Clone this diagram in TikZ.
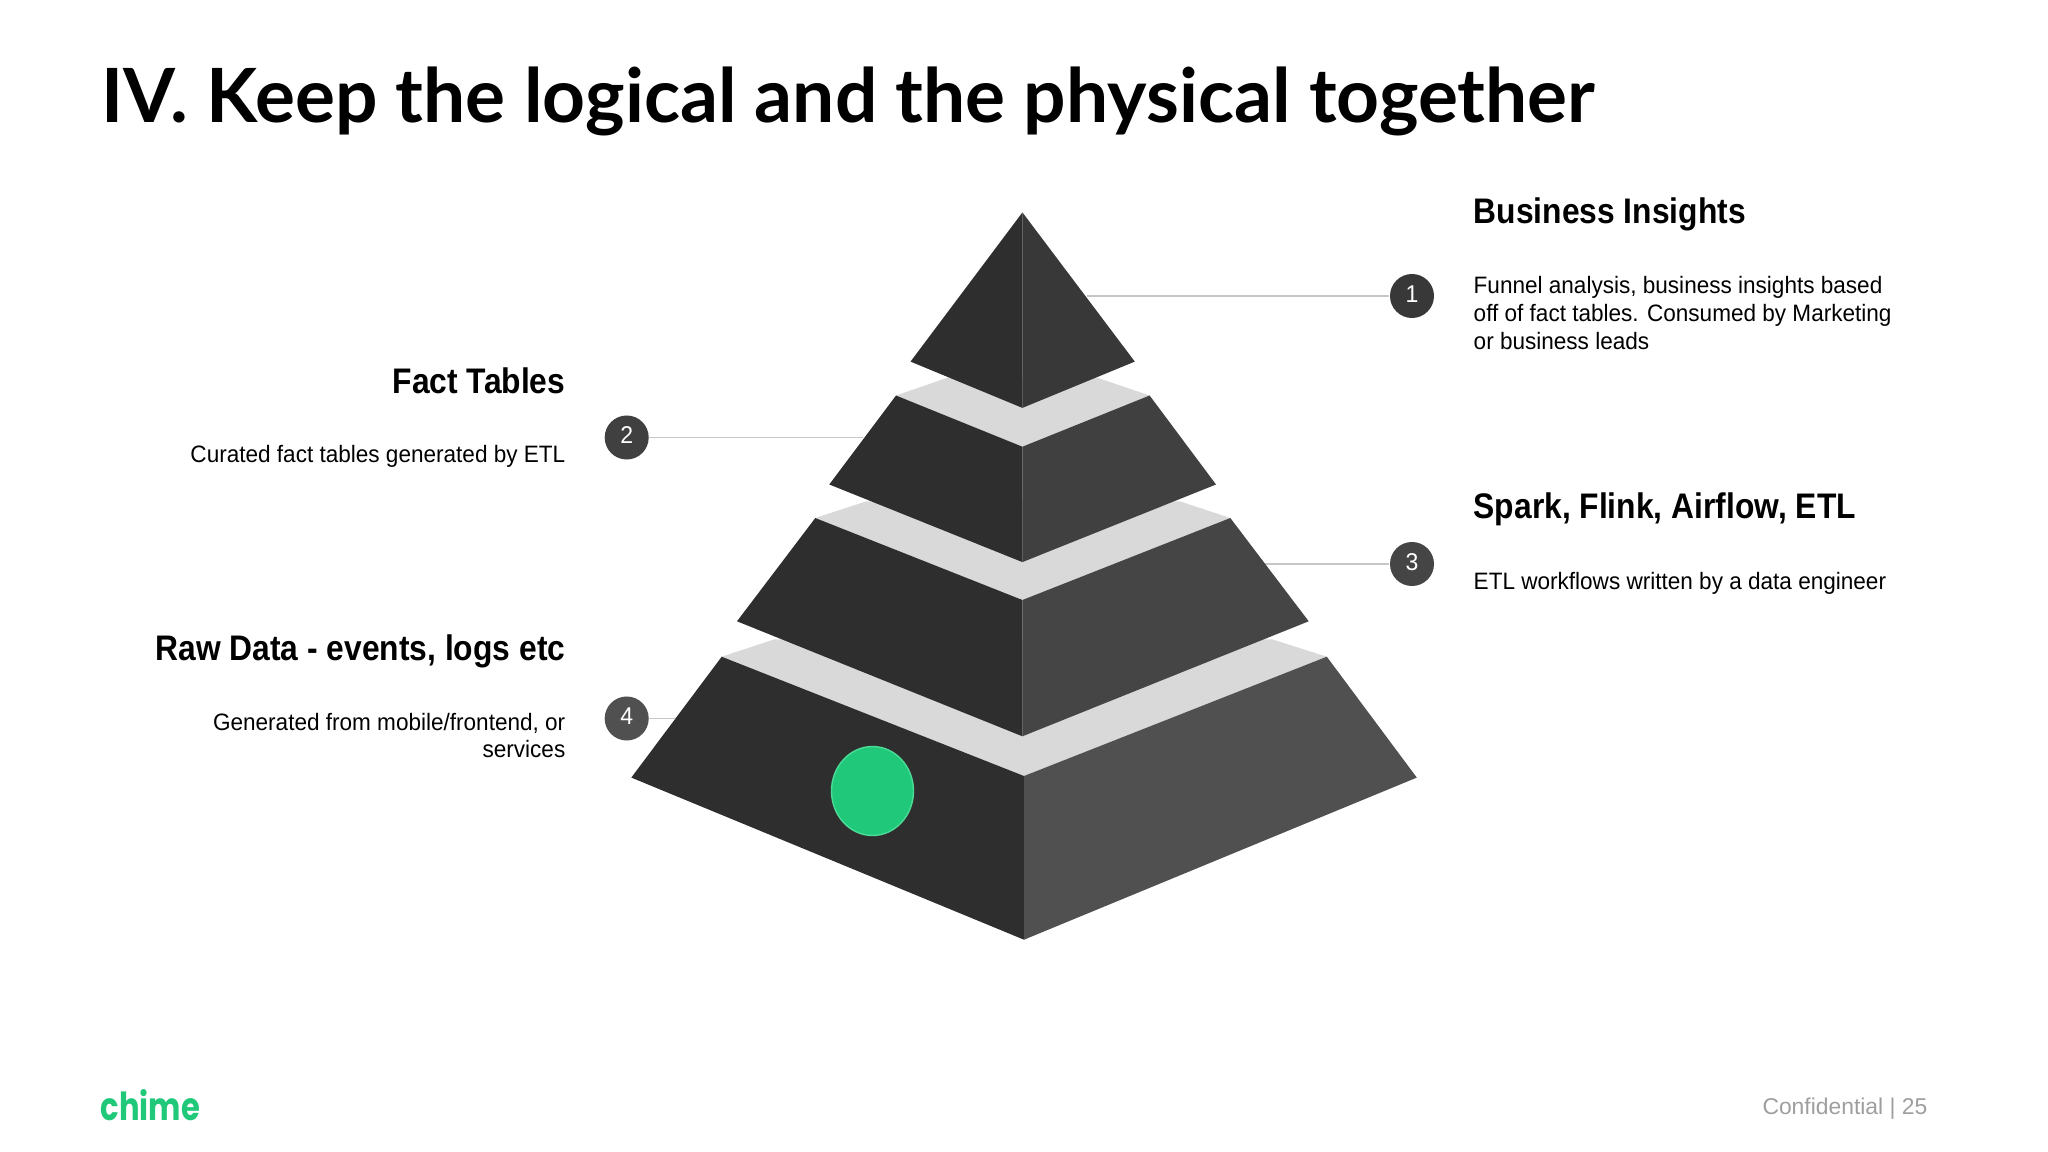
\documentclass[tikz,border=0pt]{standalone}
\usepackage{fontspec}
\setmainfont{Liberation Sans}
\newfontfamily\titlefont{Lato}
\newfontfamily\logofont{Poppins}[FakeStretch=0.79]
\newfontfamily\headfont{Liberation Sans}[FakeStretch=0.895]
\newfontfamily\copyfont{Liberation Sans}[FakeStretch=0.95]
\usepackage{xcolor}
\definecolor{faceleft}{HTML}{2E2E2E}
\definecolor{faceone}{HTML}{383838}
\definecolor{facetwo}{HTML}{404040}
\definecolor{facethree}{HTML}{454545}
\definecolor{facefour}{HTML}{505050}
\definecolor{bandgray}{HTML}{D9D9D9}
\definecolor{leadgray}{HTML}{C6C6C6}
\definecolor{chimegreen}{HTML}{20C97A}
\definecolor{chimeedge}{HTML}{4BDB97}
\definecolor{footgray}{HTML}{9E9E9E}
\tikzset{
	badge/.style={circle,minimum size=44*0.2845pt,inner sep=0pt,text=white,text depth=1.2pt,font=\fontsize{6.9}{8}\copyfont},
	lead/.style={draw=leadgray,line width=0.55pt},
	heading/.style={inner sep=0pt,font=\fontsize{10.1}{12}\headfont\bfseries},
	bodytext/.style={inner sep=0pt,font=\fontsize{6.75}{7.85}\copyfont}
}

\begin{document}
\begin{tikzpicture}[x=0.01cm,y=-0.01cm]
	\useasboundingbox (0,0) rectangle (2048,1152);

	\node[inner sep=0pt,anchor=base west,font=\fontsize{21.28}{24}\titlefont\bfseries] (title) at (101,122.5) {IV. Keep the logical and the physical together};

	\coordinate (tipone) at (1087,296);
	\coordinate (tiptwo) at (863,437.5);
	\coordinate (tipthree) at (1265,564);
	\coordinate (tipfour) at (675,718.5);

	\node[badge,fill=faceone] (one) at (1412,296) {1};
	\node[badge,fill=facetwo] (two) at (626.7,437.5) {2};
	\node[badge,fill=facethree] (three) at (1412,564) {3};
	\node[badge,fill=facefour] (four) at (626.7,718.5) {4};

	\draw[lead] (one) -- (tipone);
	\draw[lead] (two) -- (tiptwo);
	\draw[lead] (three) -- (tipthree);
	\draw[lead] (four) -- (tipfour);

	\fill[bandgray] (896,395.5) -- (946.7,378) -- (1098,378) -- (1149.6,395.5) -- (1022.4,446.7) -- cycle;
	\fill[bandgray] (815.3,518) -- (866,501.4) -- (1180,501.4) -- (1230.3,518) -- (1022.4,600) -- cycle;
	\fill[bandgray] (721.7,656.7) -- (774.4,639.3) -- (1272,639.3) -- (1326.8,656.7) -- (1024,776) -- cycle;

	\fill[faceleft] (1022.4,212.4) -- (910.5,361.6) -- (1022.4,407.9) -- cycle;
	\fill[faceone] (1022.4,212.4) -- (1134.8,361.6) -- (1022.4,407.9) -- cycle;

	\fill[faceleft] (896,395.5) -- (829.3,484.5) -- (1022.4,562.1) -- (1022.4,446.7) -- cycle;
	\fill[facetwo] (1149.6,395.5) -- (1216,484.5) -- (1022.4,562.1) -- (1022.4,446.7) -- cycle;

	\fill[faceleft] (815.3,518) -- (737,621.3) -- (1022.4,736.3) -- (1022.4,600) -- cycle;
	\fill[facethree] (1230.3,518) -- (1308.7,621.3) -- (1022.4,736.3) -- (1022.4,600) -- cycle;

	\fill[faceleft] (721.7,656.7) -- (631.3,777.6) -- (1024,939.7) -- (1024,776) -- cycle;
	\fill[facefour] (1326.8,656.7) -- (1416.8,777.6) -- (1024,939.7) -- (1024,776) -- cycle;

	\draw[fill=chimegreen,draw=chimeedge,line width=0.4pt] (872.5,791) ellipse (41 and 44.5);

	\node[heading,anchor=base west] (insights) at (1473,224) {Business Insights};
	\node[bodytext,anchor=base west] (insightsa) at (1473,294) {Funnel analysis, business insights based};
	\node[bodytext,anchor=base west] (insightsb) at (1473,321.5) {off of fact tables. Consumed by Marketing};
	\node[bodytext,anchor=base west] (insightsc) at (1473,349.5) {or business leads};

	\node[heading,anchor=base east] (facts) at (566,394) {Fact Tables};
	\node[bodytext,anchor=base east] (factsa) at (566,463) {Curated fact tables generated by ETL};

	\node[heading,anchor=base west] (spark) at (1473,519) {Spark, Flink, Airflow, ETL};
	\node[bodytext,anchor=base west] (sparka) at (1473,589.5) {ETL workflows written by a data engineer};

	\node[heading,anchor=base east] (raw) at (566,660) {Raw Data - events, logs etc};
	\node[bodytext,anchor=base east] (rawa) at (566,730) {Generated from mobile/frontend, or};
	\node[bodytext,anchor=base east] (rawb) at (566,757.5) {services};

	\node[inner sep=0pt,anchor=base west,text=chimegreen,font=\fontsize{11}{14}\logofont\bfseries] (logo) at (100,1120) {chime};
	\node[inner sep=0pt,anchor=base east,text=footgray,font=\fontsize{6.5}{8}\selectfont] (footer) at (1928,1114) {Confidential | 25};
\end{tikzpicture}
\end{document}
